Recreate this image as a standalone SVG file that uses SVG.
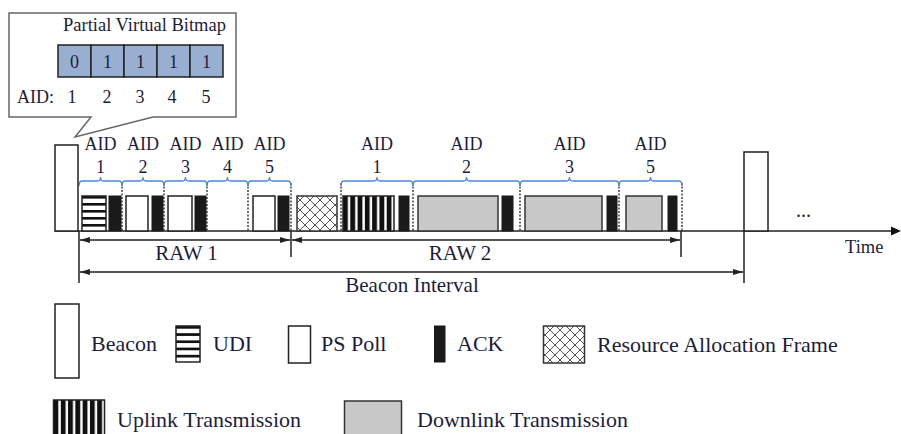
<svg xmlns="http://www.w3.org/2000/svg" width="901" height="434" viewBox="0 0 901 434">
<style>
  text { font-family: "Liberation Serif", "Times New Roman", serif; fill: #1d1d3a; }
  .aid { font-size: 18px; text-anchor: middle; }
  .lg { font-size: 22px; }
  .lbl { font-size: 21px; text-anchor: middle; }
  .bm { font-size: 18px; text-anchor: middle; }
  .frame { stroke: #222; stroke-width: 1.5; }
  .ps { fill: #fff; stroke: #222; stroke-width: 1.5; }
  .ack { fill: #1a1a1a; stroke: #1a1a1a; stroke-width: 1; }
  .dl { fill: #c8c8c8; stroke: #333; stroke-width: 1.5; }
  .udi { fill: url(#udiPat); stroke: #222; stroke-width: 1.5; }
  .ul { fill: url(#ulPat); stroke: #222; stroke-width: 1.5; }
  .raf { fill: url(#rafPat); stroke: #333; stroke-width: 1.5; }
  .beacon { fill: #fff; stroke: #222; stroke-width: 1.5; }
  .sep { stroke: #222; stroke-width: 1.3; stroke-dasharray: 2 1.5; fill: none; }
  .brace { stroke: #4f86d8; stroke-width: 1.3; fill: none; }
  .line { stroke: #222; stroke-width: 1.5; fill: none; }
  .dim { stroke: #222; stroke-width: 1.3; fill: none; marker-start: url(#arrL); marker-end: url(#arrR); }
</style>
<defs>
  <pattern id="udiPat" width="1" height="0.2" patternContentUnits="objectBoundingBox">
    <rect x="0" y="0" width="1" height="0.2" fill="#fff"/>
    <rect x="0" y="0" width="1" height="0.075" fill="#111"/>
  </pattern>
  <pattern id="ulPat" width="0.1428" height="1" patternContentUnits="objectBoundingBox">
    <rect x="0" y="0" width="0.1428" height="1" fill="#fff"/>
    <rect x="0" y="0" width="0.095" height="1" fill="#111"/>
  </pattern>
  <pattern id="rafPat" width="10" height="10" patternUnits="userSpaceOnUse">
    <rect width="10" height="10" fill="#fff"/>
    <path d="M0,0 L10,10 M10,0 L0,10" stroke="#555" stroke-width="1"/>
  </pattern>
  <marker id="arrR" viewBox="0 0 10 8" refX="10" refY="4" markerWidth="10" markerHeight="8" markerUnits="userSpaceOnUse" orient="auto">
    <path d="M0,1 L10,4 L0,7 Z" fill="#222"/>
  </marker>
  <marker id="arrL" viewBox="0 0 10 8" refX="0" refY="4" markerWidth="10" markerHeight="8" markerUnits="userSpaceOnUse" orient="auto">
    <path d="M10,1 L0,4 L10,7 Z" fill="#222"/>
  </marker>
</defs>
<rect width="901" height="434" fill="#fff"/>

<!-- Callout -->
<g id="callout">
  <path d="M9,13 H236 V117 H153 L75,137 L91,117 H9 Z" fill="#fff" stroke="#666" stroke-width="1.5"/>
  <text x="63" y="31" style="font-size:18.5px">Partial Virtual Bitmap</text>
  <g fill="#98afd2" stroke="#222" stroke-width="1.5">
    <rect x="58" y="45" width="33" height="32"/>
    <rect x="91" y="45" width="33" height="32"/>
    <rect x="124" y="45" width="33" height="32"/>
    <rect x="157" y="45" width="33" height="32"/>
    <rect x="190" y="45" width="33" height="32"/>
  </g>
  <text class="bm" x="74.5" y="68">0</text>
  <text class="bm" x="107.5" y="68">1</text>
  <text class="bm" x="140.5" y="68">1</text>
  <text class="bm" x="173.5" y="68">1</text>
  <text class="bm" x="206.5" y="68">1</text>
  <text x="17" y="103" style="font-size:18px">AID:</text>
  <text class="bm" x="72" y="103">1</text>
  <text class="bm" x="107" y="103">2</text>
  <text class="bm" x="140" y="103">3</text>
  <text class="bm" x="172" y="103">4</text>
  <text class="bm" x="206" y="103">5</text>
</g>

<!-- Connectors / axes -->
<g id="connectors">
  <line class="line" x1="55" y1="231" x2="893" y2="231"/>
  <path d="M891,226.5 L901,231 L891,235.5 Z" fill="#111"/>
  <line class="line" x1="79" y1="231" x2="79" y2="283"/>
  <line class="line" x1="291" y1="231" x2="291" y2="257"/>
  <line class="line" x1="681" y1="231" x2="681" y2="257"/>
  <line class="line" x1="744" y1="231" x2="744" y2="283"/>
  <line class="dim" x1="80" y1="240" x2="290" y2="240"/>
  <line class="dim" x1="292" y1="240" x2="680" y2="240"/>
  <line class="dim" x1="80" y1="272" x2="743" y2="272"/>
  <!-- separators -->
  <g class="sep">
    <line x1="122" y1="183" x2="122" y2="231"/>
    <line x1="164" y1="183" x2="164" y2="231"/>
    <line x1="207" y1="183" x2="207" y2="231"/>
    <line x1="248" y1="183" x2="248" y2="231"/>
    <line x1="291" y1="183" x2="291" y2="231"/>
    <line x1="341" y1="183" x2="341" y2="231"/>
    <line x1="413" y1="183" x2="413" y2="231"/>
    <line x1="520" y1="183" x2="520" y2="231"/>
    <line x1="619" y1="183" x2="619" y2="231"/>
    <line x1="682" y1="183" x2="682" y2="231"/>
  </g>
  <!-- braces -->
  <g class="brace">
    <path d="M79,186 Q79,181 82,181 H97.5 Q100.5,181 100.5,177 Q100.5,181 103.5,181 H119 Q122,181 122,186"/>
    <path d="M122,186 Q122,181 125,181 H140 Q143,181 143,177 Q143,181 146,181 H161 Q164,181 164,186"/>
    <path d="M164,186 Q164,181 167,181 H182.5 Q185.5,181 185.5,177 Q185.5,181 188.5,181 H204 Q207,181 207,186"/>
    <path d="M207,186 Q207,181 210,181 H224.5 Q227.5,181 227.5,177 Q227.5,181 230.5,181 H245 Q248,181 248,186"/>
    <path d="M248,186 Q248,181 251,181 H266.5 Q269.5,181 269.5,177 Q269.5,181 272.5,181 H288 Q291,181 291,186"/>
    <path d="M341,186 Q341,181 344,181 H374 Q377,181 377,177 Q377,181 380,181 H410 Q413,181 413,186"/>
    <path d="M413,186 Q413,181 416,181 H463.5 Q466.5,181 466.5,177 Q466.5,181 469.5,181 H517 Q520,181 520,186"/>
    <path d="M520,186 Q520,181 523,181 H566.5 Q569.5,181 569.5,177 Q569.5,181 572.5,181 H616 Q619,181 619,186"/>
    <path d="M619,186 Q619,181 622,181 H647.5 Q650.5,181 650.5,177 Q650.5,181 653.5,181 H679 Q682,181 682,186"/>
  </g>
</g>

<!-- Beacons -->
<g id="beacon1"><rect class="beacon" x="55" y="145" width="23" height="86"/></g>
<g id="beacon2"><rect class="beacon" x="744" y="152" width="24" height="79"/></g>

<!-- RAW 1 frames -->
<g id="raw1-aid1">
  <rect class="udi" x="82" y="196" width="24" height="35"/>
  <rect class="ack" x="109" y="196" width="12" height="35"/>
  <text class="aid" x="100.5" y="150">AID</text>
  <text class="aid" x="100.5" y="173">1</text>
</g>
<g id="raw1-aid2">
  <rect class="ps" x="126" y="196" width="22" height="35"/>
  <rect class="ack" x="152" y="196" width="11" height="35"/>
  <text class="aid" x="143" y="150">AID</text>
  <text class="aid" x="143" y="173">2</text>
</g>
<g id="raw1-aid3">
  <rect class="ps" x="168" y="196" width="24" height="35"/>
  <rect class="ack" x="195" y="196" width="11" height="35"/>
  <text class="aid" x="185.5" y="150">AID</text>
  <text class="aid" x="185.5" y="173">3</text>
</g>
<g id="raw1-aid4">
  <text class="aid" x="227.5" y="150">AID</text>
  <text class="aid" x="227.5" y="173">4</text>
</g>
<g id="raw1-aid5">
  <rect class="ps" x="253" y="196" width="22" height="35"/>
  <rect class="ack" x="278" y="196" width="11" height="35"/>
  <text class="aid" x="269.5" y="150">AID</text>
  <text class="aid" x="269.5" y="173">5</text>
</g>

<g id="raf"><rect class="raf" x="297" y="196" width="40" height="35"/></g>

<!-- RAW 2 frames -->
<g id="raw2-aid1">
  <rect class="ul" x="343" y="196" width="51" height="35"/>
  <rect class="ack" x="399" y="196" width="10" height="35"/>
  <text class="aid" x="377" y="150">AID</text>
  <text class="aid" x="377" y="173">1</text>
</g>
<g id="raw2-aid2">
  <rect class="dl" x="418" y="196" width="80" height="35"/>
  <rect class="ack" x="502" y="196" width="11" height="35"/>
  <text class="aid" x="466.5" y="150">AID</text>
  <text class="aid" x="466.5" y="173">2</text>
</g>
<g id="raw2-aid3">
  <rect class="dl" x="525" y="196" width="77" height="35"/>
  <rect class="ack" x="607" y="196" width="10" height="35"/>
  <text class="aid" x="569.5" y="150">AID</text>
  <text class="aid" x="569.5" y="173">3</text>
</g>
<g id="raw2-aid5">
  <rect class="dl" x="626" y="196" width="36" height="35"/>
  <rect class="ack" x="668" y="196" width="9" height="35"/>
  <text class="aid" x="650.5" y="150">AID</text>
  <text class="aid" x="650.5" y="173">5</text>
</g>

<!-- Labels -->
<g id="labels">
  <text x="796" y="217" style="font-size:20px">...</text>
  <text x="845" y="253" style="font-size:18.5px">Time</text>
  <text class="lbl" x="186.5" y="260">RAW 1</text>
  <text class="lbl" x="460" y="260">RAW 2</text>
  <text class="lbl" x="412" y="292">Beacon Interval</text>
</g>

<!-- Legend -->
<g id="legend-beacon">
  <rect class="beacon" x="55" y="304" width="24" height="74"/>
  <text class="lg" x="91" y="351">Beacon</text>
</g>
<g id="legend-udi">
  <rect class="udi" x="176" y="326" width="24" height="36"/>
  <text class="lg" x="213" y="351">UDI</text>
</g>
<g id="legend-pspoll">
  <rect class="ps" x="288.5" y="326" width="22" height="37"/>
  <text class="lg" x="321" y="351">PS Poll</text>
</g>
<g id="legend-ack">
  <rect class="ack" x="434.5" y="326" width="10.5" height="36"/>
  <text class="lg" x="457" y="351">ACK</text>
</g>
<g id="legend-raf">
  <rect class="raf" x="543.5" y="326" width="41" height="37"/>
  <text class="lg" x="597" y="352">Resource Allocation Frame</text>
</g>
<g id="legend-uplink">
  <rect class="ul" x="53.5" y="400" width="51" height="40"/>
  <text class="lg" x="117" y="427">Uplink Transmission</text>
</g>
<g id="legend-downlink">
  <rect class="dl" x="344.5" y="401" width="57" height="40"/>
  <text class="lg" x="417" y="427">Downlink Transmission</text>
</g>
</svg>
